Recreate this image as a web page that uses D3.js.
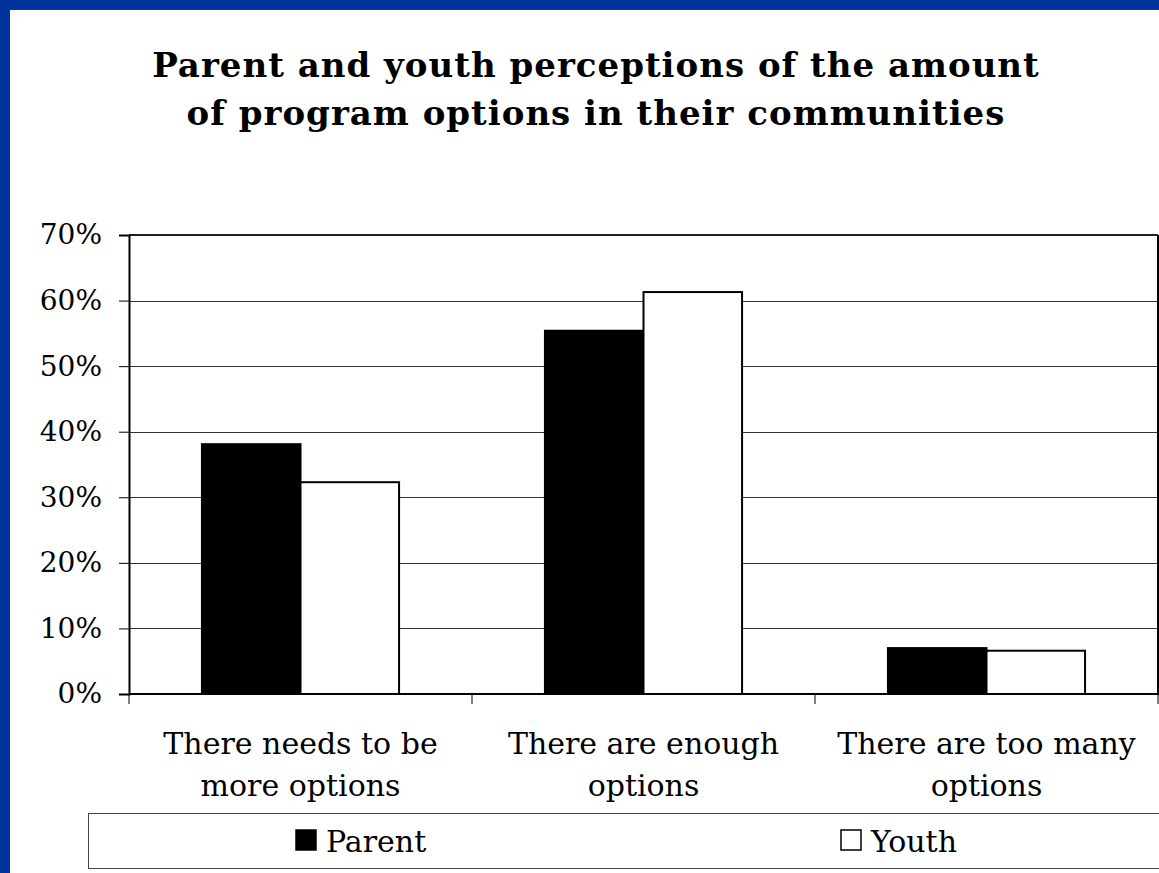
<!DOCTYPE html>
<html>
<head>
<meta charset="utf-8">
<script src="https://d3js.org/d3.v7.min.js"></script>
<style>
  body { margin: 0; background: #ffffff; }
  svg { display: block; }
  text { font-family: 'DejaVu Serif', serif; fill: #000; }
</style>
</head>
<body>
<div id="chart"></div>
<script>

  // data
  var categories = [
    ["There needs to be", "more options"],
    ["There are enough", "options"],
    ["There are too many", "options"]
  ];
  var seriesNames = ["Parent", "Youth"];
  var parentValues = [38.1, 55.4, 7.0];
  var youthValues = [32.3, 61.3, 6.6];
  var yTicks = [0, 10, 20, 30, 40, 50, 60, 70];
  var titleLines = ["Parent and youth perceptions of the amount",
                    "of program options in their communities"];

  var W = 1159, H = 873;
  var margin = { top: 235, right: 1, bottom: 179, left: 129 },
    width = W - margin.left - margin.right,
    height = H - margin.top - margin.bottom;

  var svg = d3.select("#chart")
    .append("svg")
    .attr("width", W)
    .attr("height", H);

  // blue frame on top / left
  svg.append("rect").attr("x", 0).attr("y", 0).attr("width", W).attr("height", H).attr("fill", "#003399");
  svg.append("rect").attr("x", 9).attr("y", 9).attr("width", W).attr("height", H).attr("fill", "#333");
  svg.append("rect").attr("x", 10).attr("y", 10).attr("width", W).attr("height", H).attr("fill", "#fff");

  // title
  svg.append("text")
    .attr("text-anchor", "middle")
    .style("font-weight", "bold")
    .style("font-size", "34px")
    .style("letter-spacing", "1px")
    .selectAll("tspan")
    .data(titleLines)
    .enter()
    .append("tspan")
    .attr("x", 596)
    .attr("y", function (d, i) { return 77 + i * 48; })
    .text(function (d) { return d; });

  var g = svg.append("g")
    .attr("transform", "translate(" + margin.left + "," + margin.top + ")");

  var keys = categories.map(function (d, i) { return i; });

  var x0 = d3.scaleBand()
    .domain(keys)
    .range([0, width])
    .paddingInner(0)
    .paddingOuter(0);

  var x1 = d3.scaleBand()
    .domain(seriesNames)
    .range([0, x0.bandwidth()])
    .paddingOuter(0.74)
    .paddingInner(0);

  var y = d3.scaleLinear()
    .domain([0, 70])
    .range([height, 0]);

  // gridlines
  g.append("g")
    .attr("class", "grid")
    .call(d3.axisLeft(y).tickValues(yTicks).tickSize(-width).tickFormat(""))
    .call(function (s) {
      s.select(".domain").remove();
      s.selectAll("line").attr("stroke", "#333").attr("shape-rendering", "crispEdges");
    });

  // bars
  var rows = keys.map(function (i) {
    return { cat: i, values: [parentValues[i], youthValues[i]] };
  });
  var color = d3.scaleOrdinal().domain(seriesNames).range(["#000000", "#ffffff"]);

  g.selectAll(".group")
    .data(rows)
    .enter()
    .append("g")
    .attr("transform", function (d) { return "translate(" + x0(d.cat) + ",0)"; })
    .selectAll("rect")
    .data(function (d) { return d.values.map(function (v, j) { return { key: seriesNames[j], value: v }; }); })
    .enter()
    .append("rect")
    .attr("x", function (d) { return x1(d.key); })
    .attr("y", function (d) { return y(d.value); })
    .attr("width", x1.bandwidth())
    .attr("height", function (d) { return height - y(d.value); })
    .attr("fill", function (d) { return color(d.key); })
    .attr("stroke", "#000")
    .attr("stroke-width", 2);

  // plot area border (top, right)
  g.append("line").attr("x1", 0).attr("x2", width).attr("y1", 0).attr("y2", 0)
    .attr("stroke", "#222").attr("stroke-width", 2);
  g.append("line").attr("x1", width).attr("x2", width).attr("y1", 0).attr("y2", height)
    .attr("stroke", "#000").attr("stroke-width", 2);

  // y axis
  g.append("g")
    .call(d3.axisLeft(y).tickValues(yTicks).tickSize(10).tickPadding(17)
      .tickFormat(function (d) { return d + "%"; }))
    .call(function (s) {
      s.select(".domain").attr("stroke", "#000").attr("stroke-width", 2);
      s.selectAll("line").attr("stroke", "#000");
      s.selectAll("text")
        .style("font-family", "'DejaVu Serif', serif")
        .style("font-size", "28px")
        .attr("fill", "#000");
    });

  // x axis
  var xAxis = g.append("g")
    .attr("transform", "translate(0," + height + ")");
  xAxis.append("line")
    .attr("x1", 0).attr("x2", width + 2)
    .attr("stroke", "#000").attr("stroke-width", 2);
  xAxis.selectAll(".tick")
    .data(keys.concat([keys.length]))
    .enter()
    .append("line")
    .attr("x1", function (d) { return d * x0.step(); })
    .attr("x2", function (d) { return d * x0.step(); })
    .attr("y1", 0).attr("y2", 10)
    .attr("stroke", "#000");
  xAxis.selectAll(".catlabel")
    .data(categories)
    .enter()
    .append("text")
    .attr("class", "catlabel")
    .attr("text-anchor", "middle")
    .style("font-size", "30px")
    .selectAll("tspan")
    .data(function (d, i) { return d.map(function (t) { return { t: t, i: i }; }); })
    .enter()
    .append("tspan")
    .attr("x", function (d) { return x0(d.i) + x0.bandwidth() / 2; })
    .attr("y", function (d, j) { return 60 + j * 42; })
    .text(function (d) { return d.t; });

  // legend
  var legend = svg.append("g");
  legend.append("rect")
    .attr("x", 88.5).attr("y", 813.5)
    .attr("width", 1100).attr("height", 55)
    .attr("fill", "#fff").attr("stroke", "#444").attr("stroke-width", 1);
  var legendX = [295, 840];
  seriesNames.forEach(function (name, i) {
    legend.append("rect")
      .attr("x", legendX[i] + 1).attr("y", 830)
      .attr("width", 20).attr("height", 20)
      .attr("fill", color(name))
      .attr("stroke", "#000").attr("stroke-width", 1.5);
    legend.append("text")
      .attr("x", legendX[i] + 31)
      .attr("y", 852)
      .style("font-size", "30px")
      .text(name);
  });

</script>
</body>
</html>
